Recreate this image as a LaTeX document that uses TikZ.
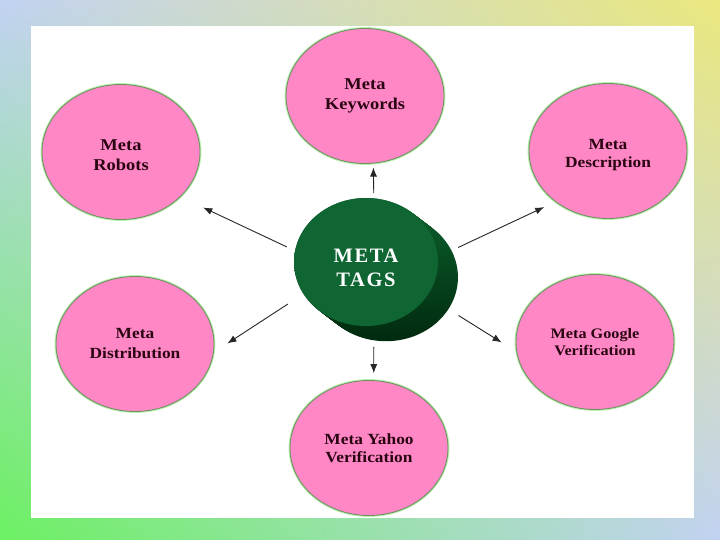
\documentclass[tikz,border=0pt]{standalone}
\usepackage{fontspec}
\usetikzlibrary{shapes.geometric,arrows.meta,shadings}
\newfontfamily\metafont[FakeStretch=1.12]{Liberation Serif}
\newfontfamily\hubfont[LetterSpace=8]{Liberation Serif}
\definecolor{bgblue}{HTML}{C2D2F2}
\definecolor{bgyellow}{HTML}{EAE87E}
\definecolor{bggreen}{HTML}{6CF062}
\definecolor{pinkfill}{HTML}{FF87C6}
\definecolor{ringline}{HTML}{6F9268}
\definecolor{ringglow}{HTML}{B8F2A8}
\definecolor{tagtop}{HTML}{0F6633}
\definecolor{sidehigh}{HTML}{0B5C2B}
\definecolor{sidelow}{HTML}{012A0F}
\definecolor{inkred}{HTML}{2A0512}
\begin{document}
\begin{tikzpicture}[x=1pt,y=-1pt,
  bubble/.style={ellipse,fill=pinkfill,draw=ringline,line width=0.9pt,preaction={draw=ringglow,line width=2.8pt},
    inner sep=0,minimum width=158pt,minimum height=135pt,align=center,text=inkred,
    font=\metafont\bfseries\fontsize{16.5}{20}\selectfont},
  hub/.style={ellipse,fill=tagtop,inner sep=0,minimum width=144pt,minimum height=128pt,align=center,text=white,
    font=\hubfont\bfseries\fontsize{20.5}{24}\selectfont},
  arrowline/.style={-{Latex[length=9pt,width=7pt]},line width=0.9pt,black!85}]
\useasboundingbox (0,0) rectangle (720,540);
\shade[upper left=bgblue,upper right=bgyellow,lower left=bggreen,lower right=bgblue] (0,0) rectangle (720,540);
\fill[white] (31,26) rectangle (694,518);
% the six meta tags round the hub
\node[bubble] (keywords) at (365,96) {Meta\\Keywords};
\node[bubble] (robots) at (121,152) {\rule{0pt}{18pt}Meta\\Robots};
\node[bubble,font=\metafont\bfseries\fontsize{15.5}{18.5}\selectfont] (description) at (608,151) {\rule{0pt}{18pt}Meta\\Description};
\node[bubble,font=\metafont\bfseries\fontsize{15.5}{20}\selectfont] (distribution) at (135,344) {Meta\\Distribution};
\node[bubble,font=\metafont\bfseries\fontsize{14.5}{16.5}\selectfont] (google) at (595,342) {Meta Google\\Verification};
\node[bubble,font=\metafont\bfseries\fontsize{15.5}{18.5}\selectfont] (yahoo) at (369,448) {Meta Yahoo\\Verification};
% hub: side of the disc, then its face
\foreach \t in {0,0.05,...,1.0}{\shade[top color=sidehigh,bottom color=sidelow] (366+21*\t,262+16*\t) ellipse (72 and 64);}
\node[hub] (tags) at (366,262) {\rule{0pt}{26pt}META\\TAGS};
\draw[arrowline,shorten <=5pt,shorten >=4pt] (tags.83.7) -- (keywords.-83.2);
\draw[arrowline,shorten <=9pt,shorten >=25pt] (tags.171.2) -- (robots.-37.2);
\draw[arrowline,shorten <=18.6pt,shorten >=16.2pt] (tags.207.6) -- (distribution.-6.8);
\draw[arrowline,shorten <=22.3pt,shorten >=12.3pt] (tags.4.5) -- (description.224.4);
\draw[arrowline,shorten <=36.9pt,shorten >=17.4pt] (tags.-29.8) -- (google.187.4);
\draw[arrowline,shorten <=21pt,shorten >=7pt] (tags.-83.7) -- (yahoo.86.6);
\end{tikzpicture}
\end{document}
